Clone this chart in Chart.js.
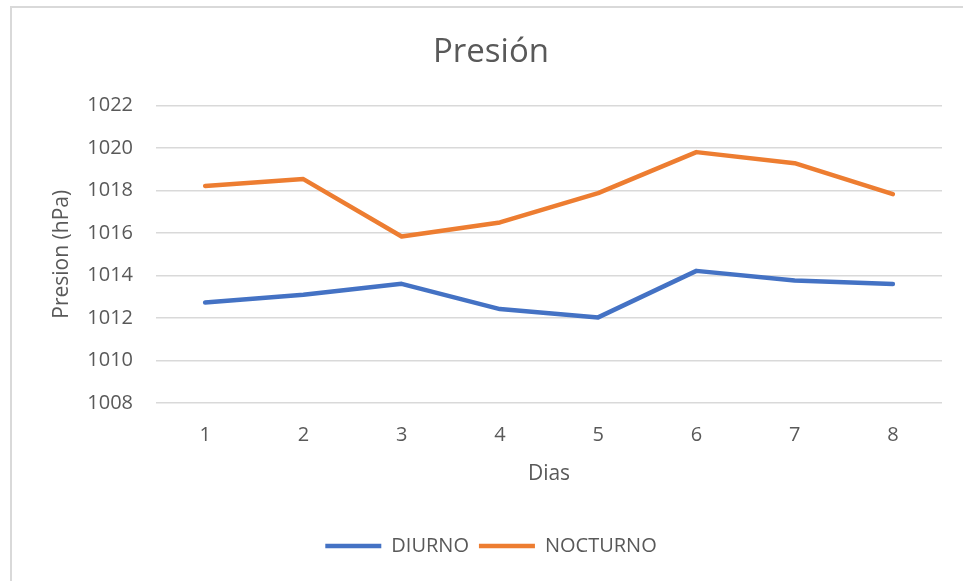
<!DOCTYPE html>
<html>
<head>
<meta charset="utf-8">
<script src="https://cdn.jsdelivr.net/npm/chart.js@4"></script>
<style>
  html, body { margin: 0; padding: 0; background: #fff; }
  #wrap { position: relative; width: 963px; height: 581px; }
  #frame {
    position: absolute; left: 10px; top: 6px; right: -10px; bottom: -10px;
    border-left: 2px solid #d9d9d9; border-top: 2px solid #d9d9d9;
    pointer-events: none;
  }
</style>
</head>
<body>
<div id="wrap">
  <canvas id="chart" width="963" height="581"></canvas>
  <div id="frame"></div>
</div>
<script>
const dias     = ['1', '2', '3', '4', '5', '6', '7', '8'];
const diurno   = [1012.73, 1013.10, 1013.61, 1012.42, 1012.03, 1014.22, 1013.77, 1013.60];
const nocturno = [1018.22, 1018.54, 1015.84, 1016.50, 1017.88, 1019.81, 1019.29, 1017.83];

const FONT = "'Open Sans', sans-serif";
const GRAY = '#595959';

const line = (label, data, color) => ({
  label, data,
  borderColor: color,
  backgroundColor: color,
  borderWidth: 4.5,
  borderCapStyle: 'round',
  borderJoinStyle: 'round',
  pointRadius: 0,
  pointHoverRadius: 0,
  tension: 0,
  fill: false,
});

new Chart(document.getElementById('chart'), {
  type: 'line',
  data: {
    labels: dias,
    datasets: [
      line('DIURNO', diurno, '#4472C4'),
      line('NOCTURNO', nocturno, '#ED7D31'),
    ],
  },
  options: {
    responsive: false,
    animation: false,
    events: [],
    // wider left padding keeps title and legend centred on the framed box
    layout: { padding: { left: 40, right: 21, top: 0, bottom: 15 } },
    plugins: {
      title: {
        display: true,
        text: 'Presión',
        color: GRAY,
        font: { family: FONT, size: 33, weight: 'normal' },
        padding: { top: 33, bottom: 33 },
      },
      legend: {
        position: 'bottom',
        labels: {
          color: GRAY,
          font: { family: FONT, size: 20 },
          usePointStyle: true,
          pointStyle: 'line',
          pointStyleWidth: 56,
          padding: 10,
        },
      },
      tooltip: { enabled: false },
    },
    scales: {
      x: {
        offset: true,
        grid: { display: false, drawTicks: false },
        border: { display: false },
        ticks: { color: GRAY, font: { family: FONT, size: 20 }, padding: 20 },
        title: {
          display: true, text: 'Dias', color: GRAY,
          font: { family: FONT, size: 21 },
          padding: { top: 0, bottom: 39 },
        },
        afterFit: s => { s.height = 123; },
      },
      y: {
        min: 1008,
        max: 1022,
        grid: { color: '#d9d9d9', lineWidth: 1.5, drawTicks: false },
        border: { display: false },
        ticks: {
          stepSize: 2, color: GRAY, font: { family: FONT, size: 20 }, padding: 23,
          callback: v => String(v),
        },
        title: {
          display: true, text: 'Presion (hPa)', color: GRAY,
          font: { family: FONT, size: 21 },
          padding: { top: 9, bottom: 0 },
        },
        afterFit: s => { s.width = 116; },
      },
    },
  },
});
</script>
</body>
</html>
